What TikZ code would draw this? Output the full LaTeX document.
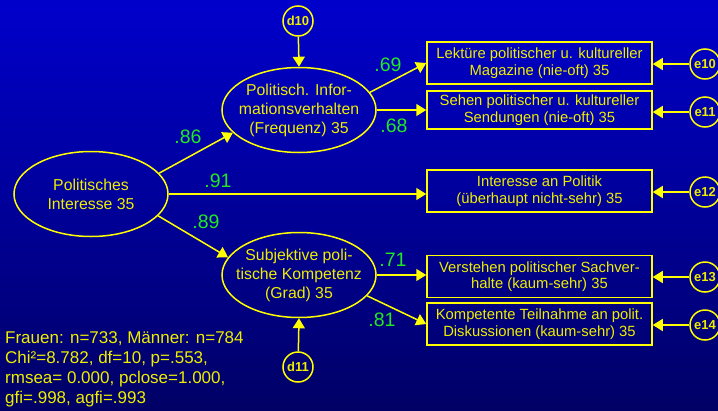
\documentclass[tikz,border=0pt]{standalone}
\usepackage{fontspec}
\setmainfont{Liberation Sans}
\usetikzlibrary{shapes.geometric,arrows.meta}
\definecolor{bgtop}{HTML}{0000CC}
\definecolor{bgmid}{HTML}{0000B0}
\definecolor{bgbottom}{HTML}{000066}
\definecolor{lineyellow}{HTML}{FFFF00}
\definecolor{textyellow}{HTML}{EEEE00}
\definecolor{coefgreen}{HTML}{22E822}

\begin{document}
\begin{tikzpicture}[x = 1pt, y = 1pt,
        latent/.style = {draw = lineyellow, line width = 1.5pt, ellipse, inner xsep = -9pt, inner ysep = 0pt, minimum width = 154pt, minimum height = 85pt, text = textyellow, align = center, font = \fontsize{15.8}{19}\selectfont},
        indicator/.style = {draw = lineyellow, line width = 1.5pt, rectangle, inner sep = 0pt, minimum width = 225pt, minimum height = 42pt, text = textyellow, align = center, font = \fontsize{14.8}{16.5}\selectfont},
        resid/.style = {draw = lineyellow, line width = 1.5pt, circle, inner sep = 0pt, minimum size = 30pt, text = textyellow, font = \fontsize{13}{14}\selectfont\bfseries},
        coef/.style = {text = coefgreen, font = \fontsize{19.5}{21}\selectfont},
        regpath/.style = {draw = lineyellow, line width = 1.5pt, -{Triangle[length = 10pt, width = 12pt]}}
    ]
        % Background
        \useasboundingbox (0, 0) rectangle (718, -410);
        \shade [top color = bgtop, middle color = bgmid, bottom color = bgbottom] (0, 0) rectangle (718, -410);

        % Latent variables
        \node [latent] (pi) at (91, -194) {Politisches\\Interesse 35};
        \node [latent] (piv) at (299, -110) {Politisch. Infor-\\mationsverhalten\\(Frequenz) 35};
        \node [latent] (spk) at (299, -275) {Subjektive poli-\\tische Kompetenz\\(Grad) 35};

        % Disturbances
        \node [resid] (d10) at (298, -21) {d10};
        \node [resid] (d11) at (298, -367) {d11};

        % Indicators
        \node [indicator] (lek) at (539.5, -63) {Lektüre politischer u. kultureller\\Magazine (nie-oft) 35};
        \node [indicator, minimum height = 38pt] (seh) at (539.5, -110) {Sehen politischer u. kultureller\\Sendungen (nie-oft) 35};
        \node [indicator] (int) at (539.5, -191) {Interesse an Politik\\(überhaupt nicht-sehr) 35};
        \node [indicator] (ver) at (539.5, -276.5) {Verstehen politischer Sachver-\\halte (kaum-sehr) 35};
        \node [indicator] (teil) at (539.5, -324) {Kompetente Teilnahme an polit.\\Diskussionen (kaum-sehr) 35};

        % Errors
        \node [resid] (e10) at (705, -64) {e10};
        \node [resid] (e11) at (705, -112) {e11};
        \node [resid] (e12) at (705, -192) {e12};
        \node [resid] (e13) at (705, -277) {e13};
        \node [resid] (e14) at (705, -325) {e14};

        % Lines
        \draw [regpath] (pi.17) -- (piv.199);
        \draw [regpath] (pi.east) -- (pi.east -| int.west);
        \draw [regpath] (pi.-18) -- (spk.166);
        \draw [regpath] (piv.14) -- (lek.west);
        \draw [regpath] (piv.east) -- (seh.west);
        \draw [regpath] (spk.east) -- (spk.east -| ver.west);
        \draw [regpath] (spk.-17) -- (teil.west);
        \draw [regpath] (d10) -- (piv.north);
        \draw [regpath] (d11) -- (spk.south);
        \draw [regpath] (e10) -- (e10 -| lek.east);
        \draw [regpath] (e11) -- (e11 -| seh.east);
        \draw [regpath] (e12) -- (e12 -| int.east);
        \draw [regpath] (e13) -- (e13 -| ver.east);
        \draw [regpath] (e14) -- (e14 -| teil.east);

        % Coefficients
        \node [coef] (c86) at (188, -137) {.86};
        \node [coef] (c91) at (218, -181) {.91};
        \node [coef] (c89) at (206, -222) {.89};
        \node [coef] (c69) at (388, -65) {.69};
        \node [coef] (c68) at (394, -126) {.68};
        \node [coef] (c71) at (393, -260) {.71};
        \node [coef] (c81) at (382, -320) {.81};

        % Fit
        \node [anchor = north west, inner sep = 0pt, align = left, text = textyellow, font = \fontsize{17}{20}\selectfont] (fit) at (5, -331) {Frauen: n=733, Männer: n=784\\Chi²=8.782, df=10, p=.553,\\rmsea= 0.000, pclose=1.000,\\gfi=.998, agfi=.993};

    \end{tikzpicture}
\end{document}
